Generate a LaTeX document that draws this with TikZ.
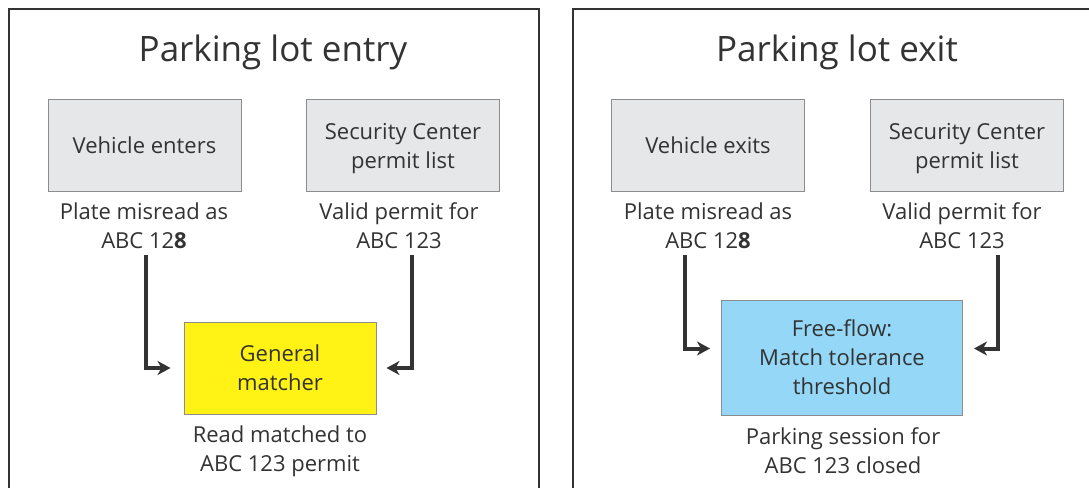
\documentclass[tikz,border=0pt]{standalone}
\usepackage{fontspec}
\setmainfont{Open Sans}
\usetikzlibrary{arrows.meta}
\definecolor{ink}{HTML}{333333}
\definecolor{boxedge}{HTML}{8C8C8C}
\definecolor{boxgray}{HTML}{E6E7E8}
\definecolor{matchyellow}{HTML}{FFF214}
\definecolor{flowblue}{HTML}{94D7F7}
\begin{document}
\begin{tikzpicture}[x=1pt,y=-1pt,
  every node/.style={text=ink},
  txt/.style={font=\fontsize{22}{29}\selectfont, align=center, inner sep=0pt},
  titletxt/.style={font=\fontsize{35}{40}\selectfont, inner sep=0pt},
  greybox/.style={txt, draw=boxedge, line width=1pt, fill=boxgray, minimum width=193pt, minimum height=92pt, text depth=0pt},
  frame/.style={draw=ink, line width=2pt},
  arr/.style={draw=ink, line width=4pt, -{Stealth[length=13pt, width=14pt, inset=4pt]}}]
\useasboundingbox (0,0) rectangle (1089,487);
\clip (0,0) rectangle (1089,487);
\fill[white] (0,0) rectangle (1089,487);
% frames
\draw[frame] (8.5,520) -- (8.5,9.5) -- (538.5,9.5) -- (538.5,520);
\draw[frame] (572.5,520) -- (572.5,9.5) -- (1120,9.5);
% left panel
\node[titletxt] (t1) at (273,52) {Parking lot entry};
\node[greybox] (ve) at (144.5,145.5) {Vehicle enters};
\node[greybox] (sc1) at (403,145.5) {Security Center\\permit list};
\node[txt] (pm1) at (144,226) {Plate misread as\\ABC 12\textbf{8}};
\node[txt] (vp1) at (399,226) {Valid permit for\\ABC 123};
\node[txt, draw=boxedge, line width=1pt, fill=matchyellow, minimum width=192pt, minimum height=92pt] (gm) at (280,368) {General\\matcher};
\node[txt] (rm) at (280,451) {Read matched to\\ABC 123 permit};
\draw[arr] ([xshift=2pt]pm1.south) ++(0,6) |- ([xshift=-13pt]gm.west);
\draw[arr] ([xshift=13pt]vp1.south) ++(0,6) |- ([xshift=10pt]gm.east);
% right panel
\node[titletxt] (t2) at (837,52) {Parking lot exit};
\node[greybox] (vx) at (708,145.5) {Vehicle exits};
\node[greybox] (sc2) at (967,145.5) {Security Center\\permit list};
\node[txt] (pm2) at (708,226) {Plate misread as\\ABC 12\textbf{8}};
\node[txt] (vp2) at (962,226) {Valid permit for\\ABC 123};
\node[txt, draw=boxedge, line width=1pt, fill=flowblue, minimum width=241pt, minimum height=115pt] (ff) at (842,357.5) {Free-flow:\\Match tolerance\\threshold};
\node[txt] (ps) at (843,451) {Parking session for\\ABC 123 closed};
\draw[arr] ([xshift=-23pt]pm2.south) ++(0,6) |- ([xshift=-11pt,yshift=9pt]ff.west);
\draw[arr] ([xshift=36pt]vp2.south) ++(0,6) |- ([xshift=11pt,yshift=9pt]ff.east);
\end{tikzpicture}
\end{document}
